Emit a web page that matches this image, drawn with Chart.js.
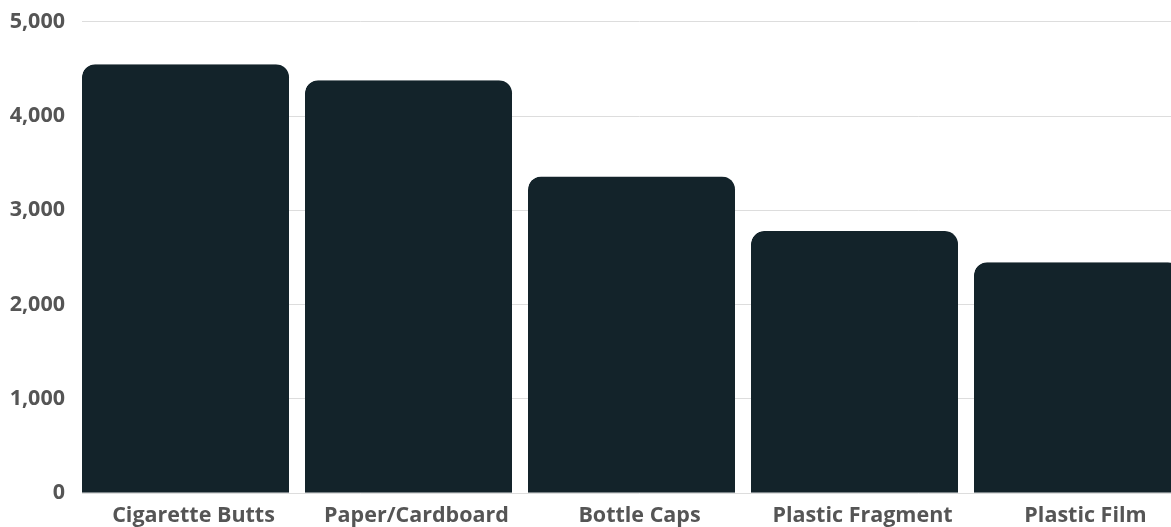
<!DOCTYPE html>
<html>
<head>
<meta charset="utf-8">
<script src="https://cdn.jsdelivr.net/npm/chart.js@4/dist/chart.umd.min.js"></script>
<style>
  html, body { margin: 0; padding: 0; background: #fff; overflow: hidden; }
  #wrap { position: relative; width: 1197px; height: 527px; }
</style>
</head>
<body>
<div id="wrap"><canvas id="chart"></canvas></div>
<script>
const CATEGORIES = ["Cigarette Butts", "Paper/Cardboard", "Bottle Caps", "Plastic Fragment", "Plastic Film"];
const COUNTS = [4550, 4380, 3360, 2780, 2450];
const Y_MAX = 5000;
const Y_STEP = 1000;

const BAR_COLOR = "#13232a";
const TEXT_COLOR = "#555555";
const GRID_COLOR = "#dddddd";

const FONT = { family: '"Open Sans", sans-serif', size: 21.5, weight: "bold" };

new Chart(document.getElementById("chart"), {
  type: "bar",
  data: {
    labels: CATEGORIES,
    datasets: [{
      data: COUNTS,
      backgroundColor: BAR_COLOR,
      // transparent right border makes the gap between bars
      borderColor: "transparent",
      borderWidth: { top: 0, left: 0, bottom: 0, right: 16 },
      borderRadius: { topLeft: 13, topRight: 29, bottomLeft: 0, bottomRight: 0 },
      borderSkipped: false,
      barPercentage: 1,
      categoryPercentage: 1,
      inflateAmount: 0,
    }],
  },
  options: {
    responsive: true,
    maintainAspectRatio: false,
    animation: false,
    layout: { padding: { top: 21.7, right: 0, bottom: 0, left: 0 } },
    plugins: { legend: { display: false }, tooltip: { enabled: false } },
    scales: {
      x: {
        grid: { display: false, drawTicks: false },
        border: { display: false },
        ticks: { color: TEXT_COLOR, font: FONT, padding: 10, maxRotation: 0, autoSkip: false },
        afterFit(scale) {
          scale.height = 33.7;
          scale.paddingLeft = 0;
          scale.paddingRight = 0;
        },
      },
      y: {
        min: 0,
        max: Y_MAX,
        grid: { color: GRID_COLOR, drawTicks: false, lineWidth: 1 },
        border: { display: false },
        ticks: {
          stepSize: Y_STEP,
          color: TEXT_COLOR,
          font: FONT,
          padding: 17,
          callback: (v) => Number(v).toLocaleString("en-US"),
        },
        afterFit(scale) {
          scale.width = 82;
          scale.paddingTop = 0;
          scale.paddingBottom = 0;
        },
      },
    },
  },
});
</script>
</body>
</html>
